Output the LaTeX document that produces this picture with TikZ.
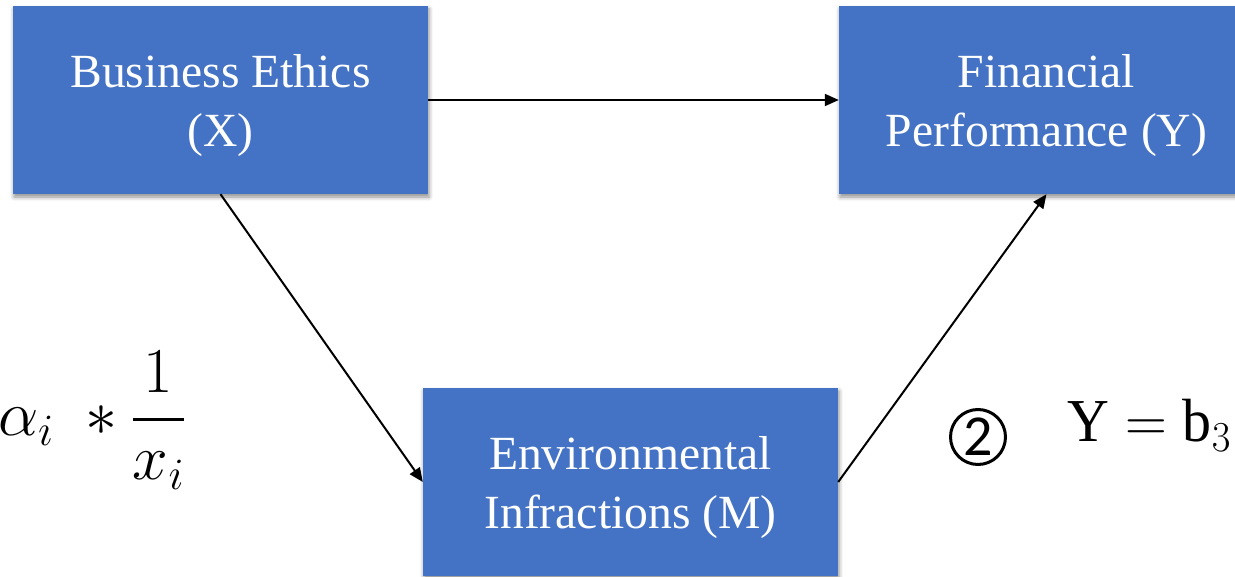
\documentclass[tikz,border=0pt]{standalone}
\usepackage{fix-cm}
\usepackage{amsmath}
\usepackage{fontspec}
\setmainfont{Liberation Serif}
\newfontfamily\carl{Carlito}
\usetikzlibrary{arrows.meta,shadows.blur}
\definecolor{boxblue}{HTML}{4472C4}
\begin{document}
\begin{tikzpicture}[x=1pt,y=-1pt,
  box/.style={fill=boxblue, minimum width=415pt, minimum height=188pt, inner sep=0pt,
    blur shadow={shadow xshift=1pt, shadow yshift=-3pt, shadow blur radius=4pt, shadow opacity=45}},
  boxtext/.style={text=white, inner sep=0pt, align=center, font=\fontsize{47.6}{59}\selectfont},
  conn/.style={line width=2pt, -{Triangle[length=14pt,width=12pt]}}]
\useasboundingbox (0,0) rectangle (1235,577);
\clip (0,0) rectangle (1235,577);
\node[box] (bx) at (220.5,100) {};
\node[box] (fy) at (1046.5,100) {};
\node[box] (em) at (630.5,482) {};
\node[boxtext] (bxt) at ([yshift=-6pt]bx.center) {Business Ethics\\(X)};
\node[boxtext] (fyt) at ([yshift=-6pt]fy.center) {Financial\\Performance (Y)};
\node[boxtext] (emt) at ([yshift=-6pt]em.center) {Environmental\\Infractions (M)};
\draw[conn] (bx.east) -- (fy.west);
\draw[conn] (bx.south) -- (em.west);
\draw[conn] (em.east) -- (fy.south);
\node[anchor=west, inner sep=0pt, font=\fontsize{64}{72}\selectfont] (eqa) at (-2,420) {$\displaystyle\alpha_i\;\ast\genfrac{}{}{3pt}{0}{1}{x_i}$};
\node[circle, draw, line width=3pt, minimum size=55pt, inner sep=0pt, font=\carl\fontsize{58}{58}\selectfont] (circ) at (978,437) {2};
\node[anchor=base west, inner sep=0pt, font=\fontsize{61}{70}\selectfont] (eqb) at (1067,442) {\scalebox{0.95}[1]{$\mathrm{Y}=\mathrm{b}_3$}};
\end{tikzpicture}
\end{document}
